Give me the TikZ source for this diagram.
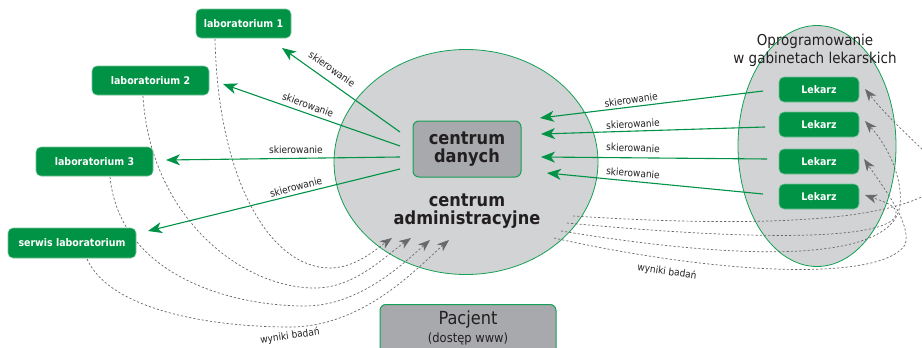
\documentclass[tikz,border=0pt]{standalone}
\usepackage{fontspec}
\setmainfont{DejaVu Sans Condensed}
\usetikzlibrary{arrows.meta,shapes.geometric}

\definecolor{labgreen}{RGB}{0,146,69}
\definecolor{rimgreen}{RGB}{20,160,85}
\definecolor{ovalgray}{RGB}{209,211,212}
\definecolor{boxgray}{RGB}{167,169,172}
\definecolor{inkgray}{RGB}{35,31,32}
\definecolor{dashgray}{RGB}{105,105,108}

\tikzset{
  labbox/.style={rectangle, rounded corners=5pt, fill=labgreen, draw=labgreen!55!white,
    line width=0.6pt, text=white, font=\bfseries\fontsize{10.5}{12}\selectfont,
    minimum height=29pt, inner sep=0pt},
  docbox/.style={labbox, minimum width=80pt, minimum height=25pt},
  oval/.style={ellipse, fill=ovalgray, draw=rimgreen, line width=0.8pt, inner sep=0pt},
  greybox/.style={rectangle, rounded corners=6pt, fill=boxgray, draw=rimgreen, line width=1pt, inner sep=0pt},
  flowtxt/.style={font=\fontsize{10}{12}\selectfont, text=inkgray, inner sep=0pt},
  sendline/.style={draw=labgreen, line width=1.1pt, -{Stealth[length=14pt,width=11pt,inset=4pt]}},
  resultline/.style={draw=dashgray, line width=0.7pt, dash pattern=on 2.2pt off 2pt,
    -{Stealth[length=12pt,width=9pt,inset=3.5pt,fill=dashgray]}},
}

\begin{document}
\begin{tikzpicture}[x=1pt,y=-1pt]
\useasboundingbox (0,0) rectangle (922,348);
\clip (0,0) rectangle (922,348);
% ovals
\node[oval, minimum width=264pt, minimum height=225pt] (adm) at (466,162) {};
\node[oval, minimum width=158pt, minimum height=241pt] (gab) at (817,146) {};
% end points of the connectors
\coordinate (s1) at (400,132);
\coordinate (s2) at (400,146);
\coordinate (s3) at (400,157);
\coordinate (s4) at (400,169);
\coordinate (t1) at (282,48);
\coordinate (t2) at (223,84);
\coordinate (t3) at (166,160);
\coordinate (t4) at (148,231);
\coordinate (r1) at (763,91);
\coordinate (r2) at (765,127);
\coordinate (r3) at (767,159);
\coordinate (r4) at (763,194);
\coordinate (u1) at (540,118);
\coordinate (u2) at (541,134);
\coordinate (u3) at (541,157);
\coordinate (u4) at (547,173);
\coordinate (b1) at (215,39);
\coordinate (b2) at (143,96);
\coordinate (b3) at (110,177);
\coordinate (b4) at (87,259);
\coordinate (a1) at (392,238);
\coordinate (a2) at (411,238);
\coordinate (a3) at (430,240);
\coordinate (a4) at (449,240);
\coordinate (c1) at (573,216);
\coordinate (c2) at (567,223);
\coordinate (c3) at (561,231);
\coordinate (c4) at (554,238);
\coordinate (d1) at (865,89);
\coordinate (d2) at (865,121);
\coordinate (d3) at (864,159);
\coordinate (d4) at (865,195);
% results, dashed
\draw[resultline] (b1) .. controls (218,180) and (270,268) .. (330,268) .. controls (355,268) and (375,250) .. (a1);
\draw[resultline] (b2) .. controls (150,215) and (240,288) .. (315,288) .. controls (355,288) and (385,256) .. (a2);
\draw[resultline] (b3) .. controls (120,275) and (230,306) .. (305,306) .. controls (360,306) and (405,262) .. (a3);
\draw[resultline] (b4) .. controls (110,310) and (210,327) .. (290,327) .. controls (365,327) and (420,265) .. (a4);
\draw[resultline] (c1) .. controls (760,228) and (900,222) .. (940,185) .. controls (950,165) and (906,140) .. (d1);
\draw[resultline] (c2) .. controls (800,245) and (890,235) .. (896,215) .. controls (898,206) and (885,202) .. (d4);
\draw[resultline] (c3) .. controls (800,270) and (895,250) .. (900,205) .. controls (903,180) and (889,147) .. (d2);
\draw[resultline] (c4) .. controls (720,275) and (880,282) .. (905,245) .. controls (912,225) and (886,191) .. (d3);
% referrals, green
\draw[sendline] (s1) -- (t1);
\draw[sendline] (s2) -- (t2);
\draw[sendline] (s3) -- (t3);
\draw[sendline] (s4) -- (t4);
\draw[sendline] (r1) -- (u1);
\draw[sendline] (r2) -- (u2);
\draw[sendline] (r3) -- (u3);
\draw[sendline] (r4) -- (u4);
% boxes
\node[labbox, minimum width=95pt] (lab1) at (243.5,23.5) {laboratorium 1};
\node[labbox, minimum width=117pt] (lab2) at (150.5,80.5) {laboratorium 2};
\node[labbox, minimum width=117pt] (lab3) at (94.5,161.5) {laboratorium 3};
\node[labbox, minimum width=128pt, minimum height=30pt] (serwis) at (72,243) {serwis laboratorium};
\node[docbox] (lek1) at (819,89.5) {Lekarz};
\node[docbox] (lek2) at (819,124.5) {Lekarz};
\node[docbox] (lek3) at (819,161.5) {Lekarz};
\node[docbox] (lek4) at (819,196.5) {Lekarz};
\node[greybox, minimum width=108pt, minimum height=56pt, align=center, text=inkgray,
  font=\bfseries\fontsize{18}{18}\selectfont] (cd) at (467,149) {centrum\\danych};
\node[greybox, minimum width=176pt, minimum height=60pt, anchor=north] (pac) at (468,304) {};
% texts
\node[align=center, text=inkgray, inner sep=0pt, font=\bfseries\fontsize{18}{17.5}\selectfont] (admtxt) at (467,211) {centrum\\administracyjne};
\node[align=center, text=inkgray, inner sep=0pt, font=\fontsize{15}{18}\selectfont] (gabtxt) at (815,50) {Oprogramowanie\\w gabinetach lekarskich};
\node[anchor=base, text=inkgray, inner sep=0pt, font=\fontsize{18}{20}\selectfont] (pactxt) at (468,324) {Pacjent};
\node[anchor=base, text=inkgray, inner sep=0pt, font=\fontsize{12.8}{14}\selectfont] (wwwtxt) at (468,342) {(dostęp www)};
\node[flowtxt, rotate=-35] (sk1) at (332,69) {skierowanie};
\node[flowtxt, rotate=-20] (sk2) at (308,105) {skierowanie};
\node[flowtxt] (sk3) at (296,150) {skierowanie};
\node[flowtxt, rotate=15] (sk4) at (296,187) {skierowanie};
\node[flowtxt, rotate=8] (sk5) at (631,100) {skierowanie};
\node[flowtxt, rotate=3] (sk6) at (633,124) {skierowanie};
\node[flowtxt, rotate=-2] (sk7) at (633,148) {skierowanie};
\node[flowtxt, rotate=-4] (sk8) at (633,173) {skierowanie};
\node[flowtxt, rotate=8] (wb1) at (290,336) {wyniki badań};
\node[flowtxt, rotate=-8] (wb2) at (667,272) {wyniki badań};
\end{tikzpicture}
\end{document}
